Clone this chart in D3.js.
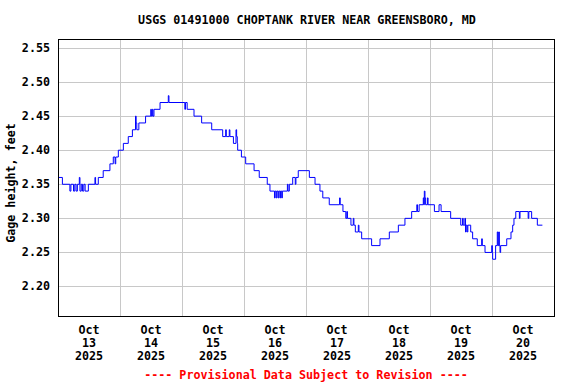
<!DOCTYPE html>
<html><head><meta charset="utf-8">
<script src="https://cdn.jsdelivr.net/npm/d3@7"></script>
<style>
html,body{margin:0;padding:0;background:#fff;}
svg{display:block;}
text{font-family:"DejaVu Sans Mono","Liberation Mono",monospace;font-weight:bold;font-size:11.7px;fill:#000;}
</style></head>
<body>
<svg id="chart" width="576" height="384"></svg>
<script>
const title = "USGS 01491000 CHOPTANK RIVER NEAR GREENSBORO, MD";
const yLabel = "Gage height, feet";
const footer = "---- Provisional Data Subject to Revision ----";
const startDate = new Date(2025, 9, 13, 0, 0);
const endDate = new Date(2025, 9, 21, 0, 0);
const yTicks = [2.20, 2.25, 2.30, 2.35, 2.40, 2.45, 2.50, 2.55];
const xTickDays = [13, 14, 15, 16, 17, 18, 19, 20];
const xTickMonth = "Oct";
const xTickYear = "2025";
// hours since Oct 13 00:00 at which the reading changes
const hours = [
  0, 1.7, 4.6, 5.0, 6.0, 6.5, 7.0, 7.5, 8.25, 8.5, 9.0, 9.5, 10.0, 10.5, 11.75,
  14.3, 14.55, 15.6, 17.5, 20.1, 21.4, 22.1, 22.35, 23.35, 25.3, 27.2, 28.8,
  30.0, 30.25, 30.5, 31.3, 33.9, 35.9, 36.15, 36.5, 36.75, 37.15, 39.5, 42.7, 42.95,
  49.1, 49.35, 50.0, 52.65, 55.6, 59.5, 63.75, 64.9, 65.15, 66.3, 66.55, 67.9,
  68.9, 69.15, 69.4, 69.55, 71.0, 72.65, 75.9, 77.9, 81.0, 82.05,
  83.8, 84.05, 84.5, 84.75, 85.2, 85.45, 85.9, 86.15, 86.6, 86.85,
  88.8, 89.05, 89.55, 90.85, 91.85, 92.1, 93.0, 97.3, 99.5, 101.4, 102.5, 105.0,
  109.0, 109.25, 109.5, 110.3, 111.4, 111.8, 112.05, 113.4, 114.3, 114.55, 115.1,
  116.25, 116.5, 117.55, 121.4, 124.65, 128.25, 131.75, 134.3, 136.9, 138.9, 139.15,
  139.8, 141.4, 141.65, 141.8, 142.05, 142.3, 143.0, 143.25, 145.7, 147.5, 148.3,
  152.0, 155.9, 156.6, 156.85, 157.5, 157.75, 158.0, 158.4, 158.65, 159.75, 160.5,
  162.3, 164.0, 164.25, 165.3, 167.9, 168.15, 168.25, 169.4, 170.05, 170.3, 170.6,
  170.85, 171.1, 171.35, 173.7, 175.35, 176.0, 176.5, 177.2, 178.6, 178.85,
  182.0, 182.25, 183.35, 185.55, 187.5
];
// gage height, feet, from that hour on
const gage = [
  2.36, 2.35, 2.34, 2.35, 2.34, 2.35, 2.34, 2.35, 2.36, 2.34, 2.35, 2.34, 2.35, 2.34, 2.35,
  2.36, 2.35, 2.36, 2.37, 2.38, 2.39, 2.38, 2.39, 2.40, 2.41, 2.42, 2.43,
  2.45, 2.44, 2.43, 2.44, 2.45, 2.46, 2.45, 2.46, 2.45, 2.46, 2.47, 2.48, 2.47,
  2.46, 2.47, 2.46, 2.45, 2.44, 2.43, 2.42, 2.43, 2.42, 2.43, 2.42, 2.41,
  2.43, 2.42, 2.41, 2.40, 2.39, 2.38, 2.37, 2.36, 2.35, 2.34,
  2.33, 2.34, 2.33, 2.34, 2.33, 2.34, 2.33, 2.34, 2.33, 2.34,
  2.35, 2.34, 2.35, 2.36, 2.35, 2.36, 2.37, 2.36, 2.35, 2.34, 2.33, 2.32,
  2.33, 2.32, 2.32, 2.31, 2.30, 2.31, 2.30, 2.29, 2.30, 2.29, 2.28,
  2.29, 2.28, 2.27, 2.26, 2.27, 2.28, 2.29, 2.30, 2.31, 2.32, 2.31,
  2.32, 2.33, 2.32, 2.34, 2.33, 2.32, 2.33, 2.32, 2.31, 2.32, 2.31,
  2.30, 2.29, 2.30, 2.29, 2.30, 2.28, 2.29, 2.28, 2.29, 2.28, 2.27,
  2.26, 2.27, 2.26, 2.25, 2.26, 2.25, 2.24, 2.26, 2.28, 2.26, 2.28,
  2.26, 2.25, 2.26, 2.27, 2.28, 2.29, 2.30, 2.31, 2.30, 2.31,
  2.30, 2.31, 2.30, 2.29, 2.29
];

const svg = d3.select("#chart");
const L = 58, R = 554, T = 39, B = 316;
const x = d3.scaleTime().domain([startDate, endDate]).range([L, R]);
const y = d3.scaleLinear().domain([2.1567, 2.5632]).range([B, T]);
const HOUR = 3600 * 1000;
const data = hours.map((h, i) => ({ t: new Date(startDate.getTime() + h * HOUR), v: gage[i] }));

// title
svg.append("text").attr("x", 307).attr("y", 24).attr("text-anchor", "middle").text(title);

// gridlines
const g = svg.append("g");
g.selectAll("line.hy").data(yTicks).enter().append("line")
  .attr("x1", L).attr("x2", R)
  .attr("y1", d => Math.round(y(d)) + 0.5).attr("y2", d => Math.round(y(d)) + 0.5)
  .attr("stroke", "#c8c8c8").attr("stroke-width", 1);
const dayLines = d3.timeDay.range(d3.timeDay.offset(startDate, 1), endDate);
g.selectAll("line.vx").data(dayLines).enter().append("line")
  .attr("y1", T).attr("y2", B)
  .attr("x1", d => Math.round(x(d)) + 0.5).attr("x2", d => Math.round(x(d)) + 0.5)
  .attr("stroke", "#c8c8c8").attr("stroke-width", 1);

// y tick labels
svg.selectAll("text.yt").data(yTicks).enter().append("text")
  .attr("x", 50).attr("y", d => y(d) + 4).attr("text-anchor", "end")
  .text(d => d.toFixed(2));

// y label
svg.append("text").attr("transform", "translate(15,183) rotate(-90)")
  .attr("text-anchor", "middle").text(yLabel);

// x labels at noon of each day
const xl = svg.selectAll("g.xt").data(xTickDays).enter().append("g")
  .attr("transform", d => `translate(${x(new Date(2025, 9, d, 12))},0)`);
xl.append("text").attr("y", 334).attr("text-anchor", "middle").text(xTickMonth);
xl.append("text").attr("y", 347).attr("text-anchor", "middle").text(d => d);
xl.append("text").attr("y", 360).attr("text-anchor", "middle").text(xTickYear);

// data line
const line = d3.line().x(d => x(d.t)).y(d => y(d.v)).curve(d3.curveStepAfter);
svg.append("path").datum(data).attr("d", line)
  .attr("fill", "none").attr("stroke", "#0000ff").attr("stroke-width", 1);

// frame
svg.append("rect").attr("x", L + 0.5).attr("y", T + 0.5).attr("width", R - L).attr("height", B - T)
  .attr("fill", "none").attr("stroke", "#000").attr("stroke-width", 1);

// footer
svg.append("text").attr("x", 306).attr("y", 379).attr("text-anchor", "middle")
  .style("fill", "#ff0000").text(footer);
</script>
</body></html>
